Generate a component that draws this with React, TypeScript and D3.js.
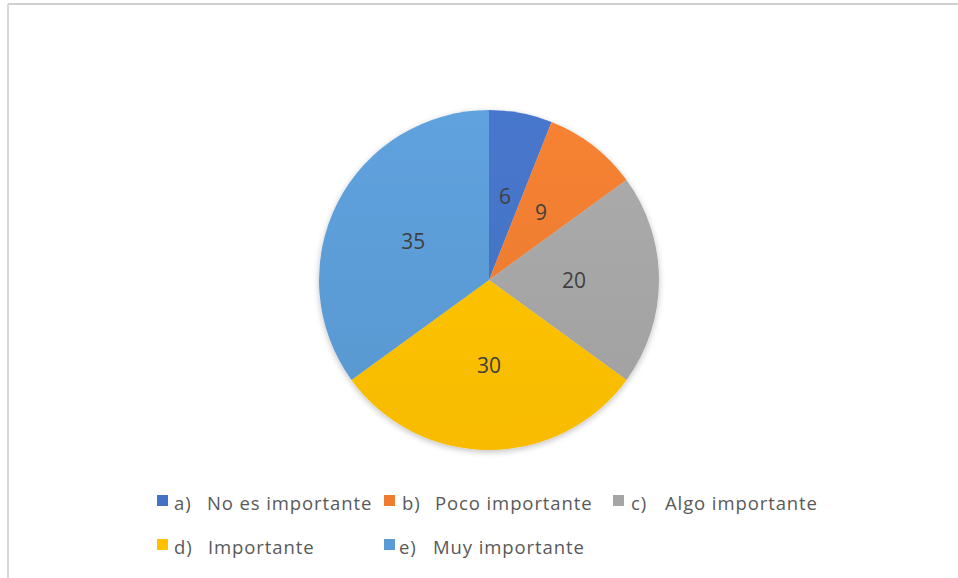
import React from "react";
import * as d3 from "d3";

const categories = ["a)", "b)", "c)", "d)", "e)"];
const labels = ["No es importante", "Poco importante", "Algo importante", "Importante", "Muy importante"];
const values = [6, 9, 20, 30, 35];
const colors = ["#4472C4", "#ED7D31", "#A5A5A5", "#FFC000", "#5B9BD5"];

const W = 958;
const H = 578;
const cx = 489;
const cy = 280;
const R = 170;

// legend layout: marker x, letter x, label x, row
const legendLayout = [
  { mx: 157, lx: 174, tx: 207, row: 0 },
  { mx: 384, lx: 402, tx: 435, row: 0 },
  { mx: 613, lx: 631, tx: 665, row: 0 },
  { mx: 157, lx: 174, tx: 208, row: 1 },
  { mx: 384, lx: 399, tx: 433, row: 1 },
];
const rowBaseline = [510, 554];

export default function App() {
  const pie = d3.pie<number>().sort(null).value((d) => d);
  const arcs = pie(values);
  const arc = d3.arc<d3.PieArcDatum<number>>().innerRadius(0).outerRadius(R);
  const labelArc = d3.arc<d3.PieArcDatum<number>>().innerRadius(R / 2).outerRadius(R / 2);

  const font = "'Open Sans', 'Liberation Sans', sans-serif";

  return (
    <svg
      width={W}
      height={H}
      style={{ position: "absolute", left: 0, top: 0, fontFamily: font }}
    >
      <defs>
        {colors.map((c, i) => {
          const top = d3.color(c)!.brighter(0.12).formatHex();
          const bot = d3.color(c)!.darker(0.08).formatHex();
          return (
            <linearGradient
              key={i}
              id={`g${i}`}
              gradientUnits="userSpaceOnUse"
              x1={0}
              y1={-R}
              x2={0}
              y2={R}
            >
              <stop offset="0" stopColor={top} />
              <stop offset="1" stopColor={bot} />
            </linearGradient>
          );
        })}
        <filter id="sh" x="-20%" y="-20%" width="140%" height="140%">
          <feGaussianBlur in="SourceAlpha" stdDeviation="3" />
          <feOffset dx="0" dy="2" result="b" />
          <feComponentTransfer>
            <feFuncA type="linear" slope="0.25" />
          </feComponentTransfer>
          <feMerge>
            <feMergeNode />
            <feMergeNode in="SourceGraphic" />
          </feMerge>
        </filter>
      </defs>
      <rect x={0} y={0} width={W} height={H} fill="#ffffff" />
      <line x1={8} y1={4} x2={W} y2={4} stroke="#d0d0d0" strokeWidth={2} />
      <line x1={8} y1={4} x2={8} y2={H} stroke="#d9d9d9" strokeWidth={2} />
      <g transform={`translate(${cx},${cy})`} filter="url(#sh)">
        {arcs.map((a, i) => (
          <path key={i} d={arc(a)!} fill={`url(#g${i})`} />
        ))}
      </g>
      <g transform={`translate(${cx},${cy})`}>
        {arcs.map((a, i) => {
          const [x, y] = labelArc.centroid(a);
          return (
            <text
              key={i}
              x={x}
              y={y}
              dy="0.36em"
              textAnchor="middle"
              fontSize={21}
              fill="#404040"
            >
              {values[i]}
            </text>
          );
        })}
      </g>
      {legendLayout.map(({ mx, lx, tx, row }, i) => {
        const by = rowBaseline[row];
        return (
          <g key={i}>
            <rect x={mx} y={by - 15} width={11} height={11} fill={colors[i]} />
            <text x={lx} y={by} fontSize={18.5} letterSpacing={0.9} fill="#595959">
              {categories[i]}
            </text>
            <text x={tx} y={by} fontSize={18.5} letterSpacing={0.9} fill="#595959">
              {labels[i]}
            </text>
          </g>
        );
      })}
    </svg>
  );
}
